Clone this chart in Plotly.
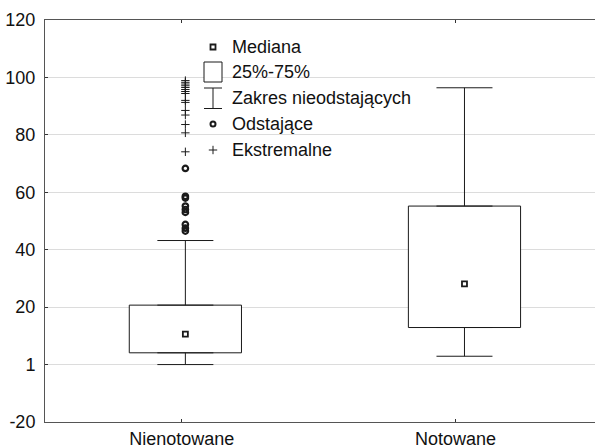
import plotly.graph_objects as go

# Dane
kategorie = ["Nienotowane", "Notowane"]
pozycje_tickow = [0, 1]
pozycje_pudelek = [0.013, 1.033]   # pudełka lekko przesunięte względem ticków, jak w oryginale
q1 = [4.1, 12.9]
mediana = [10.6, 28.1]
q3 = [20.7, 55.2]
dolny_wasik = [0.0, 2.9]
gorny_wasik = [43.2, 96.4]

# punkty odstające i ekstremalne (tylko grupa Nienotowane)
odstajace = [68.3, 58.6, 58.0, 55.2, 54.0, 53.0, 48.8, 47.5, 46.5]
ekstremalne = [98.9, 98.3, 97.7, 97.1, 96.5, 95.8, 95.1, 94.4,
               92.0, 91.3, 88.5, 86.9, 83.6, 80.7, 74.1]

y_ticki = [-20, 0, 20, 40, 60, 80, 100, 120]
y_etykiety = ["-20", "1", "20", "40", "60", "80", "100", "120"]

legenda = ["Mediana", "25%-75%", "Zakres nieodstających", "Odstające", "Ekstremalne"]

CZARNY = "#1a1a1a"
FONT = "Arial, Liberation Sans, sans-serif"

fig = go.Figure()

# pudełko 25%-75%
fig.add_trace(go.Bar(
    x=pozycje_pudelek,
    base=q1,
    y=[b - a for a, b in zip(q1, q3)],
    width=0.41,
    marker=dict(color="white", line=dict(color=CZARNY, width=1)),
    hoverinfo="skip",
))

# wąsy górne i dolne
fig.add_trace(go.Scatter(
    x=pozycje_pudelek, y=q3, mode="markers",
    marker=dict(size=1, opacity=0),
    error_y=dict(type="data", symmetric=False,
                 array=[g - q for g, q in zip(gorny_wasik, q3)],
                 arrayminus=[0, 0],
                 width=28, thickness=1, color=CZARNY),
    hoverinfo="skip",
))
fig.add_trace(go.Scatter(
    x=pozycje_pudelek, y=q1, mode="markers",
    marker=dict(size=1, opacity=0),
    error_y=dict(type="data", symmetric=False,
                 array=[0, 0],
                 arrayminus=[q - d for q, d in zip(q1, dolny_wasik)],
                 width=28, thickness=1, color=CZARNY),
    hoverinfo="skip",
))

# mediana
fig.add_trace(go.Scatter(
    x=pozycje_pudelek, y=mediana, mode="markers",
    marker=dict(symbol="square-open", size=5, color=CZARNY, line=dict(width=1.8)),
))

# odstające
fig.add_trace(go.Scatter(
    x=[pozycje_pudelek[0]] * len(odstajace), y=odstajace, mode="markers",
    marker=dict(symbol="circle-open", size=5.5, color=CZARNY, line=dict(width=2.2)),
))

# ekstremalne
fig.add_trace(go.Scatter(
    x=[pozycje_pudelek[0]] * len(ekstremalne), y=ekstremalne, mode="markers",
    marker=dict(symbol="cross-thin", size=6, color=CZARNY, line=dict(width=1, color=CZARNY)),
))

# legenda wewnątrz wykresu (osie pomocnicze w pikselach)
leg_x = 213
leg_y = [47, 72, 98, 124, 150]
fig.add_trace(go.Scatter(
    x=[leg_x], y=[leg_y[0]], xaxis="x2", yaxis="y2", mode="markers",
    marker=dict(symbol="square-open", size=5, color=CZARNY, line=dict(width=1.8)),
))
fig.add_trace(go.Scatter(
    x=[leg_x], y=[leg_y[3]], xaxis="x2", yaxis="y2", mode="markers",
    marker=dict(symbol="circle-open", size=5, color=CZARNY, line=dict(width=2)),
))
fig.add_trace(go.Scatter(
    x=[leg_x], y=[leg_y[4]], xaxis="x2", yaxis="y2", mode="markers",
    marker=dict(symbol="cross-thin", size=6, color=CZARNY, line=dict(width=1, color=CZARNY)),
))

ksztalty = [
    dict(type="rect", xref="x2", yref="y2", x0=204, x1=222, y0=62, y1=82,
         fillcolor="white", line=dict(color=CZARNY, width=1)),
    dict(type="line", xref="x2", yref="y2", x0=204, x1=222, y0=88, y1=88,
         line=dict(color=CZARNY, width=1)),
    dict(type="line", xref="x2", yref="y2", x0=204, x1=222, y0=108.5, y1=108.5,
         line=dict(color=CZARNY, width=1)),
    dict(type="line", xref="x2", yref="y2", x0=213, x1=213, y0=88, y1=108.5,
         line=dict(color=CZARNY, width=1)),
]

for tekst, yy in zip(legenda, leg_y):
    fig.add_annotation(x=230, y=yy, xref="x2", yref="y2", text=tekst,
                       showarrow=False, xanchor="left", yanchor="middle",
                       font=dict(size=18, color="#111", family=FONT))

fig.update_layout(
    width=595, height=448,
    margin=dict(l=45, r=0, t=20, b=26),
    paper_bgcolor="white", plot_bgcolor="white",
    showlegend=False,
    font=dict(family=FONT, size=18, color="#111"),
    shapes=ksztalty,
    xaxis=dict(
        range=[-0.5, 1.51], tickvals=pozycje_tickow, ticktext=kategorie,
        showgrid=False, showline=True, linecolor="#555", linewidth=1,
        mirror="ticks", ticks="inside", ticklen=3, tickcolor="#333",
        zeroline=False,
    ),
    yaxis=dict(
        range=[-20, 120], tickvals=y_ticki, ticktext=y_etykiety,
        showgrid=True, gridcolor="#dcdcdc", gridwidth=1,
        showline=True, linecolor="#555", linewidth=1,
        ticks="inside", ticklen=3, tickcolor="#333",
        ticklabelstandoff=5, zeroline=False,
    ),
    xaxis2=dict(overlaying="x", range=[45, 595], visible=False),
    yaxis2=dict(overlaying="y", range=[422, 20], visible=False),
)

# bez domyślnego marginesu strony wykres wypełnia całe okno
fig.write_html("out.html", config={"displayModeBar": False},
               post_script="document.body.style.margin = '0';")
